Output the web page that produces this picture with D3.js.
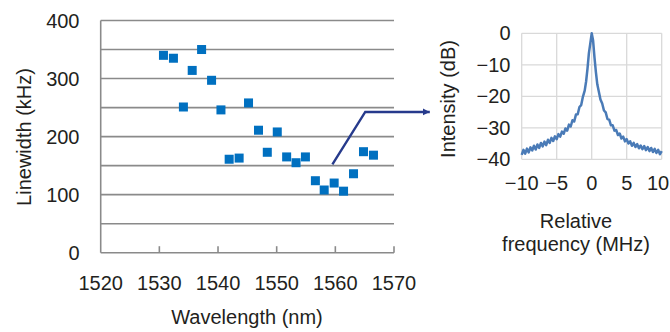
<!DOCTYPE html>
<html><head><meta charset="utf-8">
<script src="https://cdn.jsdelivr.net/npm/d3@7"></script>
<style>
html,body{margin:0;padding:0;background:#fff;}
svg{display:block;font-family:"Liberation Sans",Arial,Helvetica,sans-serif;}
</style></head>
<body>
<svg id="c" width="670" height="332"></svg>
<script>
// ---------- Data: left chart (linewidth vs wavelength) ----------
const wavelengths = [1530.7,1532.4,1537.2,1535.6,1534.1,1538.9,1540.5,1545.2,1541.9,1543.6,1546.9,1550.1,1548.4,1551.7,1553.3,1554.9,1556.6,1558.1,1559.8,1561.4,1563.1,1564.8,1566.5];
const linewidths  = [340,335,350,314,251,297,246,258,161,163,211,208,173,165,155,165,124,108,120,106,136,174,168];
const xTicksLeft = [1520,1530,1540,1550,1560,1570];
const yTicksLeft = [0,100,200,300,400];
const yGridLeft  = [50,100,150,200,250,300,350,400];
// annotation arrow path (data units of left chart)
const arrowX = [1559.5,1565.1,1576.1];
const arrowY = [152,242.5,242.5];

// ---------- Data: right chart (spectrum) ----------
const freqs = [-10,-9.75,-9.5,-9.25,-9,-8.75,-8.5,-8.25,-8,-7.75,-7.5,-7.25,-7,-6.75,-6.5,-6.25,-6,-5.75,-5.5,-5.25,-5,-4.75,-4.5,-4.25,-4,-3.75,-3.5,-3.25,-3,-2.75,-2.5,-2.25,-2,-1.75,-1.5,-1.25,-1,-0.8,-0.6,-0.4,-0.2,0,0.2,0.4,0.6,0.8,1,1.25,1.5,1.75,2,2.25,2.5,2.75,3,3.25,3.5,3.75,4,4.25,4.5,4.75,5,5.25,5.5,5.75,6,6.25,6.5,6.75,7,7.25,7.5,7.75,8,8.25,8.5,8.75,9,9.25,9.5,9.75,10];
const intensity = [-38.6,-37.0,-38.2,-36.6,-37.8,-36.2,-37.2,-35.7,-36.9,-35.3,-36.4,-34.8,-35.9,-34.4,-35.5,-33.8,-34.8,-33.2,-34.2,-32.7,-33.6,-32.0,-32.8,-31.2,-31.9,-30.2,-30.9,-29.0,-29.6,-27.6,-28.0,-25.8,-25.7,-23.4,-22.8,-20.1,-18.2,-15.3,-11.2,-6.3,-3.2,0,-2.3,-7.7,-12.3,-16.2,-18.3,-21.0,-22.3,-24.5,-25.1,-27.2,-27.4,-29.2,-29.2,-30.9,-30.7,-32.3,-31.8,-33.4,-32.8,-34.3,-33.6,-35.0,-34.3,-35.7,-34.8,-36.1,-35.2,-36.5,-35.6,-36.8,-35.8,-37.1,-36.1,-37.4,-36.4,-37.7,-36.7,-38.0,-37.0,-38.4,-37.4];
const xTicksRight = [-10,-5,0,5,10];
const yTicksRight = [0,-10,-20,-30,-40];

const fmt = d => d < 0 ? "\u2212" + Math.abs(d) : String(d);
const textColor = "#231f20";
const svg = d3.select("#c");

// ================= LEFT CHART =================
const xL = d3.scaleLinear().domain([1520,1570]).range([100.7,394]);
const yL = d3.scaleLinear().domain([0,400]).range([252.7,20.5]);
const gL = svg.append("g");

gL.selectAll("line.grid").data(yGridLeft).join("line")
  .attr("x1", xL(1520)).attr("x2", xL(1570))
  .attr("y1", d => yL(d)).attr("y2", d => yL(d))
  .attr("stroke", "#8a8a8a").attr("stroke-width", 1.6);

// axes lines
gL.append("line").attr("x1", xL(1520)).attr("x2", xL(1520)).attr("y1", yL(400)).attr("y2", yL(0))
  .attr("stroke", "#8a8a8a").attr("stroke-width", 1.6);
gL.append("line").attr("x1", xL(1520)).attr("x2", xL(1570)).attr("y1", yL(0)).attr("y2", yL(0))
  .attr("stroke", "#8a8a8a").attr("stroke-width", 1.6);
gL.selectAll("line.tick").data(xTicksLeft.slice(1)).join("line")
  .attr("x1", d => xL(d)).attr("x2", d => xL(d))
  .attr("y1", yL(0)).attr("y2", yL(0) - 6.5)
  .attr("stroke", "#8a8a8a").attr("stroke-width", 1.6);

// tick labels
gL.selectAll("text.xt").data(xTicksLeft).join("text")
  .attr("x", d => xL(d)).attr("y", 290)
  .attr("text-anchor", "middle").attr("font-size", 20).attr("fill", textColor)
  .text(d => d);
gL.selectAll("text.yt").data(yTicksLeft).join("text")
  .attr("x", 79.5).attr("y", d => yL(d) + 7)
  .attr("text-anchor", "end").attr("font-size", 20).attr("fill", textColor)
  .text(d => d);

// titles
gL.append("text").attr("x", 247).attr("y", 324).attr("text-anchor", "middle")
  .attr("font-size", 20).attr("fill", textColor).text("Wavelength (nm)");
gL.append("text").attr("transform", "translate(31,137) rotate(-90)").attr("text-anchor", "middle")
  .attr("font-size", 20).attr("fill", textColor).text("Linewidth (kHz)");

// markers
const ms = 9;
gL.selectAll("rect.pt").data(wavelengths.map((w,i)=>({w, v: linewidths[i]}))).join("rect")
  .attr("x", d => xL(d.w) - ms/2).attr("y", d => yL(d.v) - ms/2)
  .attr("width", ms).attr("height", ms).attr("fill", "#0070c0");

// annotation arrow
const defs = svg.append("defs");
defs.append("marker").attr("id","ah").attr("viewBox","0 0 10 10").attr("refX",10).attr("refY",5)
  .attr("markerWidth",3).attr("markerHeight",3).attr("markerUnits","strokeWidth").attr("orient","auto")
  .append("path").attr("d","M0,0 L10,5 L0,10 z").attr("fill","#263a8c");
gL.append("path")
  .attr("d", d3.line().x(d=>xL(d[0])).y(d=>yL(d[1]))(arrowX.map((x,i)=>[x, arrowY[i]])))
  .attr("fill","none").attr("stroke","#263a8c").attr("stroke-width",2.4)
  .attr("marker-end","url(#ah)");

// ================= RIGHT CHART =================
const xR = d3.scaleLinear().domain([-10,10]).range([521.7,661.7]);
const yR = d3.scaleLinear().domain([-40,0]).range([159.3,33.3]);
const gR = svg.append("g");

gR.selectAll("line.vg").data(xTicksRight).join("line")
  .attr("x1", d => xR(d)).attr("x2", d => xR(d)).attr("y1", yR(0)).attr("y2", yR(-40))
  .attr("stroke", "#d9d9d9").attr("stroke-width", 1.3);
gR.selectAll("line.hg").data(yTicksRight).join("line")
  .attr("x1", xR(-10)).attr("x2", xR(10)).attr("y1", d => yR(d)).attr("y2", d => yR(d))
  .attr("stroke", "#d9d9d9").attr("stroke-width", 1.3);

gR.append("path")
  .attr("d", d3.line().x(d=>xR(d[0])).y(d=>yR(d[1]))(freqs.map((f,i)=>[f, intensity[i]])))
  .attr("fill","none").attr("stroke","#4a7bb7").attr("stroke-width",2.5).attr("stroke-linejoin","round");

gR.selectAll("text.xt").data(xTicksRight).join("text")
  .attr("x", d => Math.min(xR(d), 658)).attr("y", 189.5)
  .attr("text-anchor", "middle").attr("font-size", 20).attr("fill", textColor)
  .text(fmt);
gR.selectAll("text.yt").data(yTicksRight).join("text")
  .attr("x", 510.5).attr("y", d => yR(d) + 7)
  .attr("text-anchor", "end").attr("font-size", 20).attr("fill", textColor)
  .text(fmt);

gR.append("text").attr("transform", "translate(455,99) rotate(-90)").attr("text-anchor", "middle")
  .attr("font-size", 20).attr("fill", textColor).text("Intensity (dB)");
gR.append("text").attr("x", 576).attr("y", 227.5).attr("text-anchor", "middle")
  .attr("font-size", 20).attr("fill", textColor).text("Relative");
gR.append("text").attr("x", 576).attr("y", 251).attr("text-anchor", "middle")
  .attr("font-size", 20).attr("fill", textColor).text("frequency (MHz)");
</script>
</body></html>
